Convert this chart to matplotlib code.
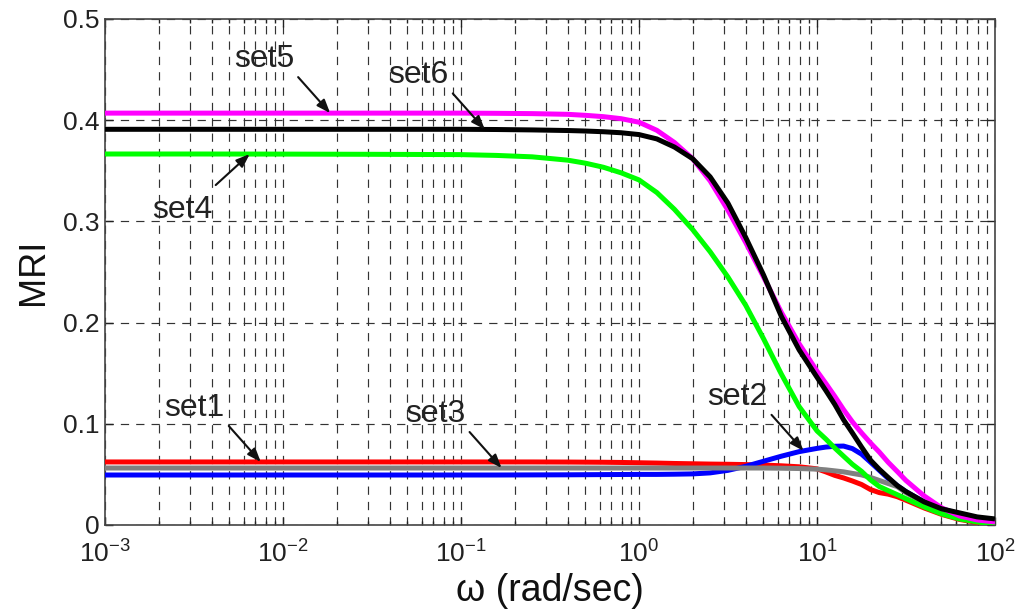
import numpy as np
import matplotlib
matplotlib.use("Agg")
import matplotlib.pyplot as plt
from matplotlib.ticker import LogLocator, FixedLocator, NullFormatter

plt.rcParams['font.family'] = ['Liberation Sans', 'DejaVu Sans']
plt.rcParams['mathtext.fontset'] = 'custom'
plt.rcParams['mathtext.rm'] = 'Liberation Sans'
plt.rcParams['mathtext.it'] = 'Liberation Sans:italic'
plt.rcParams['mathtext.bf'] = 'Liberation Sans:bold'

# ---- data ----
omega = [0.001, 0.00316, 0.01, 0.0316, 0.1,
         0.158, 0.251, 0.398, 0.501, 0.631, 0.794,
         1.0, 1.26, 1.58, 2.0, 2.51, 3.16, 3.98, 5.01, 6.31, 7.94,
         10.0, 11.2, 12.6, 14.1, 15.8, 17.8, 20.0, 22.4, 25.1, 28.2, 31.6,
         39.8, 50.1, 63.1, 79.4, 100]

set1 = [0.0623, 0.0623, 0.0623, 0.0623, 0.0623,
        0.0623, 0.0623, 0.0622, 0.0621, 0.0620, 0.0618,
        0.0615, 0.0612, 0.0608, 0.0605, 0.0602, 0.0600, 0.0597, 0.0592, 0.0585, 0.0575,
        0.0555, 0.0525, 0.0490, 0.0465, 0.0435, 0.0400, 0.0350, 0.0320, 0.0305, 0.0280, 0.0245,
        0.0170, 0.0105, 0.0055, 0.0025, 0.0010]
set2 = [0.0494, 0.0494, 0.0494, 0.0494, 0.0494,
        0.0494, 0.0495, 0.0496, 0.0497, 0.0498, 0.0499,
        0.0500, 0.0500, 0.0502, 0.0505, 0.0515, 0.0540, 0.0580, 0.0630, 0.0680, 0.0725,
        0.0757, 0.0770, 0.0778, 0.0780, 0.0755, 0.0700, 0.0620, 0.0540, 0.0460, 0.0390, 0.0330,
        0.0230, 0.0160, 0.0110, 0.0070, 0.0050]
set3 = [0.0563, 0.0563, 0.0563, 0.0563, 0.0563,
        0.0563, 0.0563, 0.0563, 0.0563, 0.0563, 0.0563,
        0.0563, 0.0563, 0.0563, 0.0563, 0.0563, 0.0563, 0.0563, 0.0563, 0.0561, 0.0558,
        0.0552, 0.0545, 0.0535, 0.0525, 0.0510, 0.0495, 0.0470, 0.0440, 0.0410, 0.0380, 0.0320,
        0.0220, 0.0150, 0.0110, 0.0070, 0.0050]
set4 = [0.3666, 0.3666, 0.3665, 0.3663, 0.3660,
        0.3652, 0.3638, 0.3605, 0.3575, 0.3535, 0.3480,
        0.3410, 0.3285, 0.3120, 0.2920, 0.2700, 0.2450, 0.2170, 0.1840, 0.1490, 0.1170,
        0.0930, 0.0850, 0.0760, 0.0680, 0.0600, 0.0530, 0.0445, 0.0380, 0.0340, 0.0300, 0.0260,
        0.0180, 0.0110, 0.0060, 0.0030, 0.0010]
set5 = [0.4070, 0.4070, 0.4070, 0.4070, 0.4070,
        0.4068, 0.4065, 0.4058, 0.4048, 0.4035, 0.4015,
        0.3980, 0.3900, 0.3780, 0.3620, 0.3400, 0.3110, 0.2790, 0.2450, 0.2100, 0.1790,
        0.1520, 0.1400, 0.1270, 0.1140, 0.1020, 0.0910, 0.0810, 0.0720, 0.0620, 0.0530, 0.0440,
        0.0290, 0.0170, 0.0090, 0.0050, 0.0030]
set6 = [0.3910, 0.3910, 0.3910, 0.3910, 0.3910,
        0.3908, 0.3904, 0.3898, 0.3893, 0.3886, 0.3876,
        0.3858, 0.3815, 0.3735, 0.3620, 0.3440, 0.3180, 0.2840, 0.2470, 0.2060, 0.1730,
        0.1460, 0.1330, 0.1190, 0.1040, 0.0910, 0.0770, 0.0640, 0.0550, 0.0470, 0.0390, 0.0330,
        0.0230, 0.0160, 0.0120, 0.0080, 0.0060]

series_names = ['set1', 'set2', 'set3', 'set4', 'set5', 'set6']
series_values = [set1, set2, set3, set4, set5, set6]
series_colors = ['#ff0000', '#0000ff', '#808080', '#00ff00', '#ff00ff', '#000000']
draw_order = [2, 0, 1, 3, 4, 5]

# annotation: label -> omega where the arrow points
annot_omega = {'set5': 0.0184, 'set6': 0.136, 'set4': 0.0065,
               'set1': 0.0075, 'set3': 0.169, 'set2': 8.4}

x_ticks = [1e-3, 1e-2, 1e-1, 1e0, 1e1, 1e2]
y_ticks = [0, 0.1, 0.2, 0.3, 0.4, 0.5]
y_tick_labels = ['0', '0.1', '0.2', '0.3', '0.4', '0.5']

# ---- figure ----
L, R, T, B = 105, 995, 19, 525
fig = plt.figure(figsize=(10.19, 6.13), dpi=100)
ax = fig.add_axes([L / 1019, 1 - B / 613, (R - L) / 1019, (B - T) / 613])

for i in draw_order:
    ax.plot(omega, series_values[i], color=series_colors[i], lw=3.6,
            solid_capstyle='butt', solid_joinstyle='round', zorder=3 + i)

ax.set_xscale('log')
ax.set_xlim(1e-3, 1e2)
ax.set_ylim(0, 0.5)
ax.xaxis.set_major_locator(FixedLocator(x_ticks))
ax.xaxis.set_minor_locator(LogLocator(base=10, subs=np.arange(2, 10)))
ax.xaxis.set_minor_formatter(NullFormatter())
ax.set_yticks(y_ticks)
ax.set_yticklabels(y_tick_labels)

grid_kw = dict(color='#333333', lw=0.85, ls=(0, (7, 6)))
ax.grid(True, which='major', axis='both', **grid_kw)
ax.grid(True, which='minor', axis='x', **grid_kw)
ax.set_axisbelow(True)

ax.tick_params(which='both', direction='in', top=True, right=True,
               labelsize=19, colors='#222222', width=1.0)
ax.tick_params(which='major', length=6, pad=4)
ax.tick_params(which='minor', length=3)
ax.tick_params(axis='x', which='major', pad=11)
for sp in ax.spines.values():
    sp.set_color('#444444')
    sp.set_linewidth(1.2)

ax.set_xlabel('ω (rad/sec)', fontsize=27, color='#111111')
ax.set_ylabel('MRI', fontsize=26, color='#111111')
ax.xaxis.set_label_coords(0.5, (B - 591) / (B - T))
ax.xaxis.label.set_verticalalignment('center')
ax.yaxis.set_label_coords((33 - L) / (R - L), 0.5)
ax.yaxis.label.set_verticalalignment('center')

logw = np.log10(omega)
for name, w in annot_omega.items():
    vals = series_values[series_names.index(name)]
    ytip = float(np.interp(np.log10(w), logw, vals))
    below = name == 'set4'
    start = (-34, -31) if below else (-32, 36)
    txt = (-67, -56) if below else (-66, 54)
    ax.annotate('', xy=(w, ytip), xytext=start, textcoords='offset pixels',
                arrowprops=dict(arrowstyle='-|>,head_length=0.45,head_width=0.17',
                                color='#111111', lw=1.5, shrinkA=0, shrinkB=0,
                                mutation_scale=18), zorder=20)
    ax.annotate(name, xy=(w, ytip), xytext=txt, textcoords='offset pixels',
                ha='center', va='center', fontsize=23, color='#222222', zorder=21)

fig.savefig('out.png', dpi=100)
